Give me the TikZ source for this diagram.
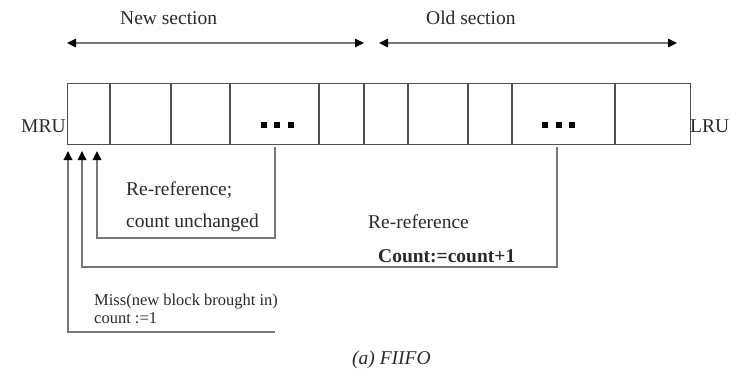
\documentclass[tikz,border=0pt]{standalone}
\usepackage{fontspec}
\setmainfont{Liberation Serif}
\usetikzlibrary{arrows.meta}

\definecolor{boxgray}{HTML}{505050}
\definecolor{linegray}{HTML}{777777}
\definecolor{textgray}{HTML}{2A2A2A}

\begin{document}
\begin{tikzpicture}[x=1pt,y=-1pt,
  cellline/.style={draw=boxgray, line width=1.3pt},
  flow/.style={draw=linegray, line width=1.8pt},
  flowarrow/.style={flow, -{Triangle[length=9pt,width=8.5pt,color=black]}},
  span/.style={draw=linegray, line width=1.6pt,
    {Triangle[length=9pt,width=8.5pt,color=black]}-{Triangle[length=9pt,width=8.5pt,color=black]}},
  lbl/.style={font=\fontsize{19.5}{22}\selectfont, text=textgray, inner sep=0pt, anchor=base west},
  small/.style={lbl, font=\fontsize{16.5}{19}\selectfont},
  dot/.style={fill=black, minimum size=6pt, inner sep=0pt, draw=none, rectangle}
]
\useasboundingbox (0,0) rectangle (731,369);

% section headings with their extent arrows
\node[lbl] (newsec) at (120,25) {New section};
\node[lbl] (oldsec) at (426,25) {Old section};
\coordinate (newL) at (67,43);
\coordinate (newR) at (364,43);
\coordinate (oldL) at (379,43);
\coordinate (oldR) at (677,43);
\draw[span] (newL) -- (newR);
\draw[span] (oldL) -- (oldR);

% the queue of blocks
\node[cellline, rectangle, minimum width=623pt, minimum height=61pt,
      inner sep=0pt, anchor=north west] (queue) at (67,83) {};
\foreach \x in {110,171,230,319,364,408,468,512,615}
  \draw[cellline] (\x,83) -- (\x,144);

\node[dot] (d1) at (263.5,124.5) {};
\node[dot] (d2) at (277,124.5) {};
\node[dot] (d3) at (290.5,124.5) {};
\node[dot] (d4) at (545,124.5) {};
\node[dot] (d5) at (558.5,124.5) {};
\node[dot] (d6) at (572,124.5) {};

\node[lbl] (mru) at (21,132) {MRU};
\node[lbl] (lru) at (690,132) {LRU};

% entry points at the MRU end and taps below the queue
\coordinate (in1) at (68,151);
\coordinate (in2) at (82,151);
\coordinate (in3) at (97,151);
\coordinate (tapA) at (275,147);
\coordinate (tapB) at (557,147);
\coordinate (missend) at (275,332);

% re-reference in the new section
\draw[flowarrow] (tapA) |- (97,238) -- (in3);
% re-reference in the old section
\draw[flowarrow] (tapB) |- (82,267) -- (in2);
% miss
\draw[flowarrow] (missend) -| (in1);

\node[lbl] (rr1) at (126,195) {Re-reference;};
\node[lbl] (rr2) at (126,227) {count unchanged};
\node[lbl] (rr3) at (368,228) {Re-reference};
\node[lbl, font=\fontsize{19.5}{22}\selectfont\bfseries] (rr4) at (378,262) {Count:=count+1};
\node[small] (miss1) at (94,305) {Miss(new block brought in)};
\node[small] (miss2) at (94,323) {count :=1};
\node[lbl, font=\fontsize{19.5}{22}\selectfont\itshape] (cap) at (352,364) {(a) FIIFO};
\end{tikzpicture}
\end{document}
